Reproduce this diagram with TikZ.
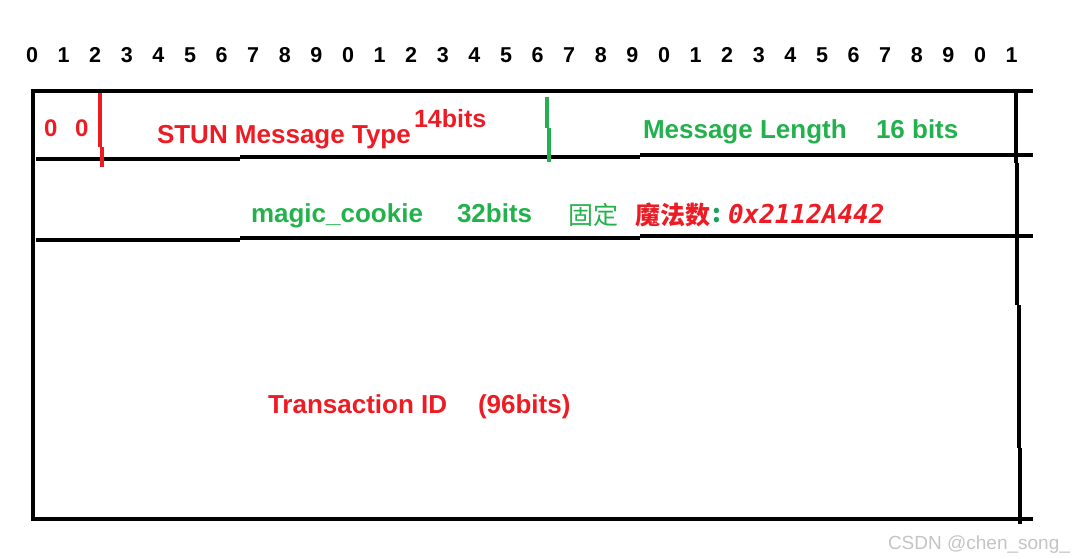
\documentclass[tikz,border=0pt]{standalone}
\usepackage{fontspec}
\newfontfamily\lat{Liberation Sans}
\newfontfamily\cjk{Noto Sans CJK SC}
\newfontfamily\monof{DejaVu Sans Mono}
\newfontfamily\wmf{Liberation Sans}
\definecolor{pred}{HTML}{ED1C24}
\definecolor{pgreen}{HTML}{22B14C}
\definecolor{wmgray}{HTML}{C4C4C4}
\tikzset{
  txt/.style={anchor=base west, inner sep=0pt, outer sep=0pt},
  big/.style={font=\lat\bfseries\fontsize{26}{26}\selectfont},
  rtxt/.style={txt, big, text=pred},
  gtxt/.style={txt, big, text=pgreen},
  digit/.style={anchor=base, inner sep=0pt, font=\lat\bfseries\fontsize{21.5}{21.5}\selectfont},
  frame/.style={line width=4pt, black},
  fieldmark/.style={line width=4pt},
}
\begin{document}
\begin{tikzpicture}[x=1pt,y=-1pt]
\useasboundingbox (0,0) rectangle (1076,559);
% bit numbers
\foreach \d [count=\k from 0] in {0,1,2,3,4,5,6,7,8,9,0,1,2,3,4,5,6,7,8,9,0,1,2,3,4,5,6,7,8,9,0,1}
  \node[digit] (b\k) at (32+31.6*\k,63) {\d};
% frame
\draw[frame] (32,91) -- (1033,91);
\draw[frame] (33,89) -- (33,520);
\draw[frame] (31,519) -- (1033,519);
\draw[frame] (1016,89) -- (1016,163);
\draw[frame] (1017,163) -- (1017,305);
\draw[frame] (1019,305) -- (1019,448);
\draw[frame] (1020,448) -- (1020,524);
% row separators
\draw[frame] (36,159) -- (240,159);
\draw[frame] (240,157) -- (640,157);
\draw[frame] (640,155) -- (1033,155);
\draw[frame] (36,240) -- (240,240);
\draw[frame] (240,238) -- (640,238);
\draw[frame] (640,236) -- (1033,236);
% field markers
\draw[fieldmark, pred] (100,93) -- (100,147);
\draw[fieldmark, pred] (101.5,147) -- (101.5,167);
\draw[fieldmark, pgreen] (547,97) -- (547,128);
\draw[fieldmark, pgreen] (548.5,128) -- (548.5,162);
% texts row 1
\node[rtxt, font=\lat\bfseries\fontsize{24}{24}\selectfont] (z1) at (44,137) {0};
\node[rtxt, font=\lat\bfseries\fontsize{24}{24}\selectfont] (z2) at (75,137) {0};
\node[rtxt] (stun) at (157,143) {STUN Message Type};
\node[txt, text=pred, font=\lat\bfseries\fontsize{25}{25}\selectfont] (b14) at (414,128) {14bits};
\node[gtxt] (ml) at (643,139) {Message Length};
\node[gtxt] (ml16) at (876,139) {16 bits};
% row 2
\node[gtxt] (mc) at (251,222) {magic\_cookie};
\node[gtxt] (mc32) at (457,222) {32bits};
\node[txt, text=pgreen, font=\cjk\fontsize{25}{25}\selectfont] (gd) at (568,224) {固定};
\node[txt, text=pred, font=\cjk\bfseries\fontsize{25}{25}\selectfont] (mfs) at (635,224) {魔法数};
\node[txt, text=pgreen!70!teal, font=\cjk\bfseries\fontsize{25}{25}\selectfont] (col) at (712,222) {:};
\node[txt, text=pred, font=\monof\bfseries\itshape\fontsize{26}{26}\selectfont] (hex) at (728,223) {0x2112A442};
% row 3
\node[rtxt] (tid) at (268,413) {Transaction ID};
\node[rtxt] (tid96) at (478,413) {(96bits)};
% watermark
\node[txt, text=wmgray, font=\wmf\fontsize{19}{19}\selectfont] (wm) at (888,549) {CSDN @chen\_song\_};
\end{tikzpicture}
\end{document}
